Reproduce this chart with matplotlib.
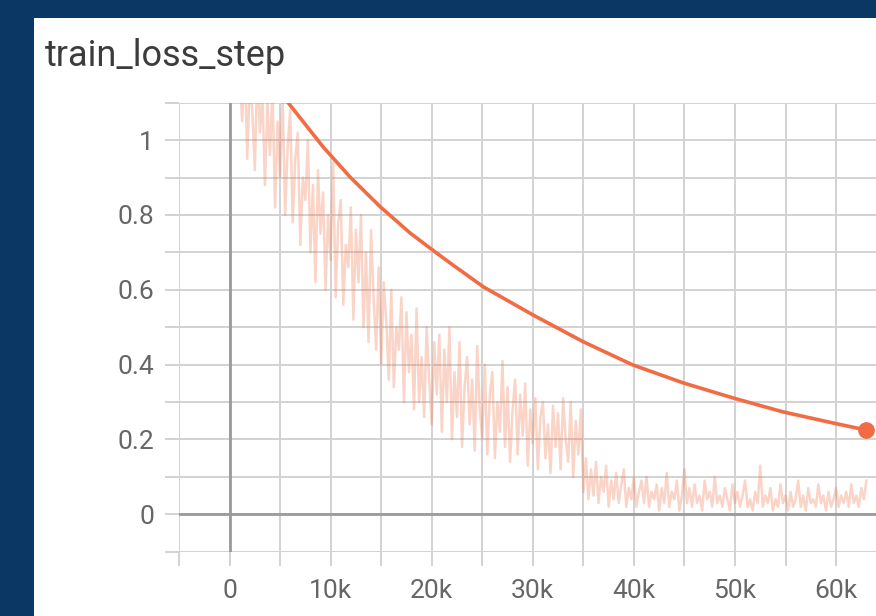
import numpy as np
import matplotlib
matplotlib.use("Agg")
import matplotlib.pyplot as plt
from matplotlib.patches import Rectangle

plt.rcParams['font.family'] = ['Roboto', 'DejaVu Sans']

title = "train_loss_step"

# raw loss values, one every 250 steps from 1k to 63k
raw_start, raw_step = 1000, 250
raw_vals = [
    1.18, 1.05, 1.22, 0.95, 1.15, 1.08, 0.92, 1.20, 1.02, 1.12,
    0.88, 1.10, 0.96, 1.14, 0.82, 1.05, 0.90, 1.12, 0.80, 0.98,
    1.08, 0.78, 0.95, 1.02, 0.72, 0.90, 0.84, 1.00, 0.70, 0.88,
    0.62, 0.92, 0.75, 0.86, 0.60, 0.80, 0.68, 0.94, 0.58, 0.78,
    0.84, 0.56, 0.72, 0.66, 0.82, 0.52, 0.76, 0.62, 0.80, 0.50,
    0.70, 0.46, 0.76, 0.58, 0.44, 0.66, 0.40, 0.62, 0.52, 0.36,
    0.60, 0.34, 0.50, 0.44, 0.58, 0.30, 0.54, 0.38, 0.48, 0.28,
    0.55, 0.30, 0.42, 0.26, 0.50, 0.36, 0.24, 0.46, 0.32, 0.48,
    0.22, 0.44, 0.30, 0.50, 0.20, 0.38, 0.26, 0.46, 0.18, 0.34,
    0.42, 0.24, 0.36, 0.17, 0.45, 0.28, 0.20, 0.40, 0.16, 0.32,
    0.38, 0.15, 0.30, 0.22, 0.41, 0.18, 0.34, 0.14, 0.28, 0.36,
    0.16, 0.32, 0.21, 0.35, 0.13, 0.28, 0.19, 0.31, 0.12, 0.26,
    0.30, 0.15, 0.24, 0.11, 0.29, 0.18, 0.27, 0.12, 0.31, 0.20,
    0.14, 0.30, 0.10, 0.25, 0.16, 0.28, 0.06, 0.15, 0.04, 0.12,
    0.05, 0.14, 0.03, 0.10, 0.06, 0.13, 0.02, 0.09, 0.04, 0.11,
    0.03, 0.08, 0.12, 0.02, 0.07, 0.04, 0.10, 0.02, 0.06, 0.09,
    0.03, 0.10, 0.02, 0.06, 0.04, 0.08, 0.01, 0.07, 0.03, 0.11,
    0.02, 0.06, 0.04, 0.09, 0.01, 0.05, 0.12, 0.03, 0.07, 0.02,
    0.08, 0.03, 0.05, 0.01, 0.09, 0.04, 0.06, 0.02, 0.10, 0.03,
    0.05, 0.02, 0.07, 0.04, 0.01, 0.08, 0.03, 0.06, 0.02, 0.05,
    0.09, 0.02, 0.04, 0.01, 0.06, 0.03, 0.13, 0.02, 0.05, 0.03,
    0.07, 0.01, 0.04, 0.02, 0.08, 0.03, 0.05, 0.01, 0.06, 0.02,
    0.04, 0.09, 0.02, 0.05, 0.01, 0.07, 0.03, 0.04, 0.02, 0.08,
    0.03, 0.05, 0.01, 0.06, 0.02, 0.04, 0.07, 0.02, 0.05, 0.03,
    0.06, 0.02, 0.08, 0.03, 0.05, 0.02, 0.07, 0.04, 0.09,
]
raw_steps = raw_start + raw_step * np.arange(len(raw_vals))

# smoothed curve
smooth_steps = [3000, 5800, 9250, 11900, 14900, 17850, 19800, 21800, 25100,
                30000, 35000, 39900, 44900, 49800, 54700, 59700, 63000]
smooth_vals = [1.22, 1.10, 0.982, 0.902, 0.822, 0.752, 0.712, 0.672, 0.608,
               0.533, 0.461, 0.399, 0.351, 0.311, 0.274, 0.244, 0.225]

x_major = [0, 10000, 20000, 30000, 40000, 50000, 60000]
x_labels = ["0", "10k", "20k", "30k", "40k", "50k", "60k"]
x_minor = [-5000, 5000, 15000, 25000, 35000, 45000, 55000]
y_major = [0, 0.2, 0.4, 0.6, 0.8, 1.0]
y_labels = ["0", "0.2", "0.4", "0.6", "0.8", "1"]
y_minor = [-0.1, 0.1, 0.3, 0.5, 0.7, 0.9, 1.1]

W, H = 876, 616
fig = plt.figure(figsize=(W / 100, H / 100), dpi=100)
fig.patch.set_facecolor('#0a3763')
fig.patches.append(Rectangle((34 / W, 0), 1 - 34 / W, (H - 18) / H,
                             transform=fig.transFigure, facecolor='white',
                             edgecolor='none', zorder=-5))
fig.text(45 / W, 1 - 66 / H, title, fontsize=26, color='#3c3c3c',
         ha='left', va='baseline')

left, right = 179 / W, 1.0
bottom, top = 1 - 551.7 / H, 1 - 102.7 / H
ax = fig.add_axes([left, bottom, right - left, top - bottom])
ax.set_zorder(1)
ax.set_facecolor('none')
ax.set_xlim(-5000, 63950)
ax.set_ylim(-0.1, 1.1)
for s in ax.spines.values():
    s.set_visible(False)

grid_c = '#d2d2d2'
ax.set_xticks(x_major)
ax.set_xticklabels(x_labels)
ax.set_xticks(x_minor, minor=True)
ax.set_yticks(y_major)
ax.set_yticklabels(y_labels)
ax.set_yticks(y_minor, minor=True)
ax.grid(True, which='both', color=grid_c, linewidth=1.4, zorder=1)
ax.tick_params(which='both', length=10, width=1.4, color=grid_c,
               labelsize=19, labelcolor='#666666')
ax.tick_params(axis='x', which='both', pad=10)
ax.tick_params(axis='y', which='both', pad=8)
ax.set_axisbelow(True)

ax.axhline(0, color='#9a9a9a', linewidth=2, zorder=2)
ax.axvline(0, color='#9a9a9a', linewidth=2, zorder=2)

ax.plot(raw_steps, raw_vals, color='#f4714a', alpha=0.3, linewidth=1.8, zorder=3)
ax.plot(smooth_steps, smooth_vals, color='#f26b43', linewidth=2.6, zorder=4,
        solid_capstyle='round')
ax.plot([smooth_steps[-1]], [smooth_vals[-1]], 'o', color='#f26b43',
        markersize=11, zorder=5, clip_on=False)

fig.savefig('out.png', dpi=100, facecolor=fig.get_facecolor())
